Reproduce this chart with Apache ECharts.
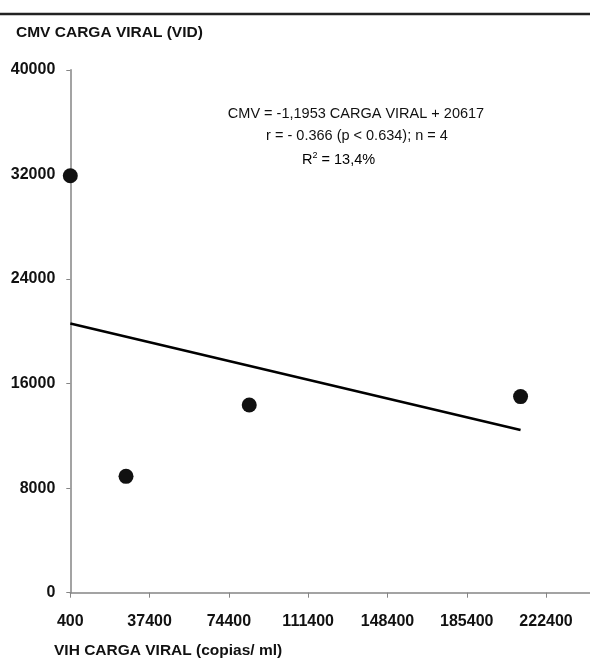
<!DOCTYPE html>
<html>
<head>
<meta charset="utf-8">
<script src="https://cdn.jsdelivr.net/npm/echarts@6/dist/echarts.min.js"></script>
<style>
  html, body { margin: 0; padding: 0; background: #fff; }
  #chart { width: 590px; height: 664px; }
</style>
</head>
<body>
<div id="chart"></div>
<script>
// puntos
const vihCarga = [400, 26400, 83900, 210500];
const cmvCarga = [31900, 8900, 14360, 15000];

// recta de regresion (extremos)
const rectaX = [400, 210500];
const rectaY = [20600, 12450];

const xTicks = [400, 37400, 74400, 111400, 148400, 185400, 222400];
const yTicks = [0, 8000, 16000, 24000, 32000, 40000];

const anotaciones = [
  "CMV = -1,1953 CARGA VIRAL + 20617",
  "r = - 0.366 (p < 0.634); n = 4",
  "13,4%"
];

const chart = echarts.init(document.getElementById("chart"));

const font = "'Liberation Sans', Arial, sans-serif";
const gris = "#858585";

const option = {
  animation: false,
  backgroundColor: "#fff",
  textStyle: { fontFamily: font },
  title: {
    text: "CMV CARGA VIRAL (VID)",
    left: 11,
    top: 20,
    textStyle: { fontFamily: font, fontSize: 15.5, fontWeight: "bold", color: "#111" }
  },
  grid: { left: 70.3, right: 0, top: 69.8, bottom: 71.3, outerBoundsMode: "none", containLabel: false },
  xAxis: {
    type: "value",
    min: 400,
    max: 242900,
    axisLine: { show: true, lineStyle: { color: gris, width: 1.5 } },
    axisTick: { show: true, length: 5, customValues: xTicks, lineStyle: { color: gris } },
    axisLabel: {
      customValues: xTicks,
      formatter: (v) => String(v),
      margin: 21,
      fontFamily: font, fontSize: 16, fontWeight: "bold", color: "#111"
    },
    splitLine: { show: false }
  },
  yAxis: {
    type: "value",
    min: 0,
    max: 40000,
    interval: 8000,
    axisLine: { show: true, lineStyle: { color: gris, width: 1.5 } },
    axisTick: { show: true, length: 4, lineStyle: { color: gris } },
    axisLabel: {
      customValues: yTicks,
      formatter: (v) => String(v),
      margin: 15,
      fontFamily: font, fontSize: 16, fontWeight: "bold", color: "#111"
    },
    splitLine: { show: false }
  },
  series: [
    {
      type: "line",
      data: rectaX.map((x, i) => [x, rectaY[i]]),
      symbol: "none",
      lineStyle: { color: "#000", width: 2.6 },
      z: 2
    },
    {
      type: "scatter",
      data: vihCarga.map((x, i) => [x, cmvCarga[i]]),
      symbol: "circle",
      symbolSize: 15,
      itemStyle: { color: "#111", opacity: 1 },
      z: 3
    }
  ],
  graphic: [
    {
      type: "line",
      shape: { x1: 0, y1: 14, x2: 590, y2: 14 },
      style: { stroke: "#222", lineWidth: 2.5 }
    },
    {
      type: "text",
      x: 54, y: 651,
      style: {
        text: "VIH CARGA VIRAL (copias/ ml)", fontFamily: font, fontSize: 15.5,
        fontWeight: "bold", fill: "#111", align: "left", verticalAlign: "middle"
      }
    },
    {
      type: "text",
      x: 356, y: 114,
      style: {
        text: anotaciones[0], fontFamily: font, fontSize: 14.5, fill: "#111",
        align: "center", verticalAlign: "middle"
      }
    },
    {
      type: "text",
      x: 357, y: 136,
      style: {
        text: anotaciones[1], fontFamily: font, fontSize: 14.5, fill: "#111",
        align: "center", verticalAlign: "middle"
      }
    },
    {
      type: "text",
      x: 302, y: 160,
      style: {
        text: "{a|R}{s|2}{a| = " + anotaciones[2] + "}",
        align: "left", verticalAlign: "middle",
        rich: {
          a: { fontFamily: font, fontSize: 14.5, color: "#111" },
          s: { fontFamily: font, fontSize: 9, color: "#111", padding: [0, 0, 8, 0] }
        }
      }
    }
  ]
};

chart.setOption(option);
</script>
</body>
</html>
